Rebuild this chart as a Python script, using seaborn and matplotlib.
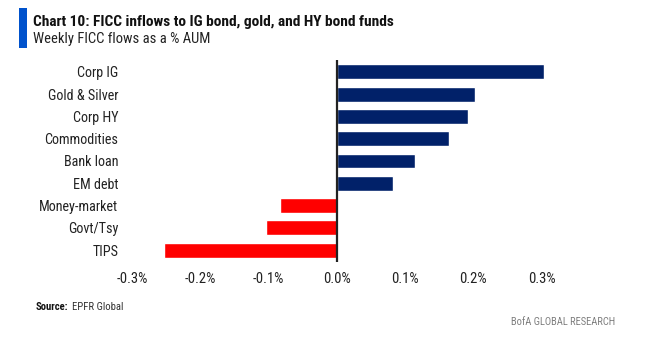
import matplotlib
matplotlib.use("Agg")
import matplotlib.pyplot as plt
import matplotlib.patches as mpatches
import seaborn as sns
import pandas as pd

# Weekly FICC fund flows, % of AUM
categories = ["Corp IG", "Gold & Silver", "Corp HY", "Commodities", "Bank loan",
              "EM debt", "Money-market", "Govt/Tsy", "TIPS"]
flows = [0.304, 0.203, 0.192, 0.164, 0.115, 0.082, -0.083, -0.104, -0.253]
tick_values = [-0.3, -0.2, -0.1, 0.0, 0.1, 0.2, 0.3]
tick_labels = ["-0.3%", "-0.2%", "-0.1%", "0.0%", "0.1%", "0.2%", "0.3%"]

NAVY = "#012169"
RED = "#FF0000"
colors = [NAVY if v >= 0 else RED for v in flows]

sns.set_theme(style="white")
plt.rcParams["font.family"] = ["Roboto Condensed", "IBM Plex Sans Condensed", "DejaVu Sans"]

df = pd.DataFrame({"category": categories, "flow": flows})

fig = plt.figure(figsize=(6.51, 3.48), dpi=100)
W, H = 651, 348
left_px, right_px = 121.6, 551.9
top_px, bot_px = 60, 262
ax = fig.add_axes([left_px / W, 1 - bot_px / H, (right_px - left_px) / W, (bot_px - top_px) / H])

sns.barplot(data=df, x="flow", y="category", hue="category",
            palette=dict(zip(categories, colors)), legend=False,
            orient="h", width=0.67, saturation=1, ax=ax)

ax.set_xlim(-0.315, 0.315)
ax.set_ylim(8.53, -0.53)
ax.axvline(0, color="#222222", lw=1.6, zorder=5)

for s in ax.spines.values():
    s.set_visible(False)
ax.set_xlabel("")
ax.set_ylabel("")
ax.set_xticks(tick_values)
ax.set_xticklabels(tick_labels)
ax.tick_params(axis="x", length=0, pad=7.5, labelsize=10.5, colors="#222222")
ax.tick_params(axis="y", length=0, pad=2.4, labelsize=10.2, colors="#222222")
ax.grid(False)

# Header
fig.patches.append(mpatches.Rectangle((19 / W, 1 - 47.7 / H), 7.7 / W, 39.4 / H,
                                      transform=fig.transFigure, color="#0052CC", lw=0))
fig.text(33 / W, 1 - 21.7 / H, "Chart 10: FICC inflows to IG bond, gold, and HY bond funds",
         fontsize=11.1, fontweight="bold", color="#111111", va="center", ha="left")
fig.text(33 / W, 1 - 39 / H, "Weekly FICC flows as a % AUM",
         fontsize=10.5, color="#222222", va="center", ha="left")

# Footer
src = fig.text(36 / W, 1 - 307 / H, "Source:", fontsize=7.7, fontweight="bold",
               color="#111111", va="center", ha="left")
fig.canvas.draw()
bb = src.get_window_extent()
fig.text((bb.x1 + 3) / W, 1 - 307 / H, "EPFR Global", fontsize=7.7,
         color="#333333", va="center", ha="left")
fig.text(615 / W, 1 - 322 / H, "BofA GLOBAL RESEARCH", fontsize=7.6,
         color="#7F7F7F", va="center", ha="right")

fig.savefig("out.png", dpi=100)
